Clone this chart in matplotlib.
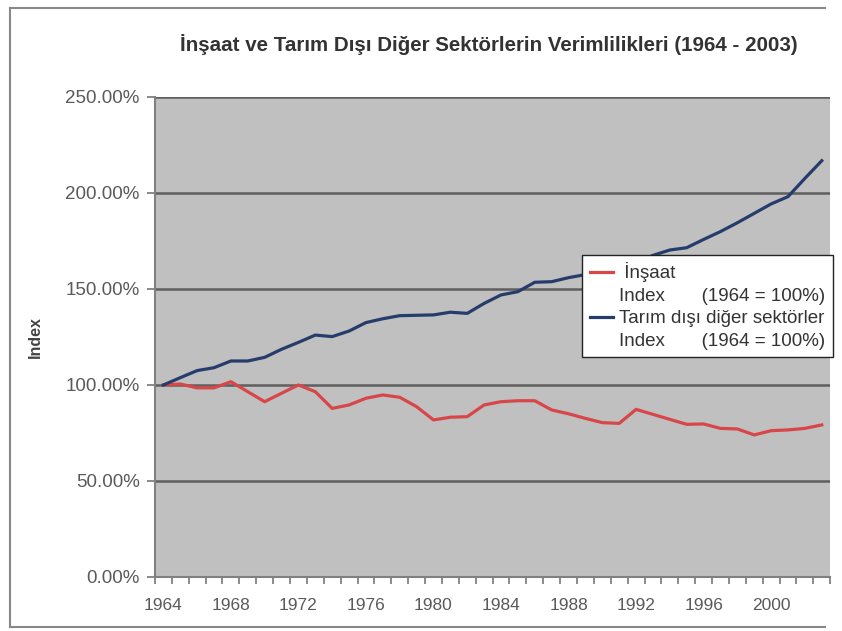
import matplotlib
matplotlib.use("Agg")
import matplotlib.pyplot as plt
from matplotlib.lines import Line2D
from matplotlib.ticker import FuncFormatter, MultipleLocator
import numpy as np

# Index values (1964 = 100%)
years = list(range(1964, 2004))
insaat = [100.0, 100.5, 98.5, 98.5, 101.7, 96.5, 91.3, 95.7, 100.0, 96.5,
          87.8, 89.6, 93.1, 94.8, 93.6, 88.7, 81.8, 83.2, 83.5, 89.6,
          91.3, 91.8, 91.8, 87.0, 85.0, 82.6, 80.4, 80.0, 87.3, 84.7,
          82.1, 79.5, 79.7, 77.4, 77.1, 74.0, 76.2, 76.6, 77.4, 79.2]
diger = [100.0, 103.8, 107.5, 109.0, 112.5, 112.5, 114.4, 118.6, 122.2, 126.0,
         125.2, 128.1, 132.5, 134.5, 136.1, 136.3, 136.5, 137.9, 137.3, 142.5,
         146.9, 148.6, 153.5, 153.8, 155.9, 157.5, 158.0, 160.0, 163.5, 167.5,
         170.3, 171.5, 175.8, 179.9, 184.5, 189.4, 194.3, 198.1, 207.6, 216.8]
year_labels = [1964, 1968, 1972, 1976, 1980, 1984, 1988, 1992, 1996, 2000]

title = "İnşaat ve Tarım Dışı Diğer Sektörlerin Verimlilikleri (1964 - 2003)"
label_insaat = " İnşaat"
label_diger = "Tarım dışı diğer sektörler"
label_index = "Index       (1964 = 100%)"

red = "#d8464a"
blue = "#263d6c"
txt_gray = "#5a5a5a"

plt.rcParams["font.family"] = ["Liberation Sans", "DejaVu Sans"]

fig = plt.figure(figsize=(8.42, 6.31), dpi=100)
ax = fig.add_axes([0.184, 0.0856, 0.802, 0.7607])
ax.set_facecolor("#c0c0c0")

ax.plot(years, insaat, color=red, lw=2.3, solid_joinstyle="round")
ax.plot(years, diger, color=blue, lw=2.3, solid_joinstyle="round")

ax.set_xlim(1963.5, 2003.5)
ax.set_ylim(0, 250)
ax.yaxis.set_major_locator(MultipleLocator(50))
ax.yaxis.set_major_formatter(FuncFormatter(lambda v, p: "%.2f%%" % v))
ax.set_xticks(year_labels)
ax.set_xticks(np.arange(1963.5, 2004, 1), minor=True)
ax.tick_params(axis="x", which="major", length=0, pad=15, labelsize=12.5, labelcolor=txt_gray)
ax.tick_params(axis="x", which="minor", length=5, width=1.2, color="#777777", direction="out")
ax.tick_params(axis="y", length=6, width=1.2, color="#777777", labelsize=13.5,
               labelcolor=txt_gray, pad=5)

ax.grid(axis="y", color="#5e5e5e", lw=1.8)
ax.set_axisbelow(True)
for side in ["top", "right"]:
    ax.spines[side].set_visible(False)
for side in ["left", "bottom"]:
    ax.spines[side].set_color("#808080")
    ax.spines[side].set_linewidth(1.5)

ax.set_ylabel("Index", fontsize=11.5, fontweight="bold", color="#444444", labelpad=16)

fig.text(0.58, 0.929, title, ha="center", va="center", fontsize=14.8, fontweight="bold",
         color="#333333", family=["Liberation Sans Narrow", "Liberation Sans"])

blank = Line2D([], [], color="none")
handles = [Line2D([], [], color=red, lw=2.3), blank,
           Line2D([], [], color=blue, lw=2.3), blank]
labels = [label_insaat, label_index, label_diger, label_index]
leg = ax.legend(handles, labels, loc="upper left", bbox_to_anchor=(0.633, 0.671),
                borderaxespad=0, fontsize=13.5, handlelength=1.25, handletextpad=0.3,
                labelspacing=0.28, borderpad=0.4, fancybox=False, framealpha=1)
leg.get_frame().set_edgecolor("#222222")
leg.get_frame().set_linewidth(1.0)
leg.set_clip_on(False)
for t in leg.get_texts():
    t.set_color("#333333")

# outer chart border (left, top, bottom)
fig.add_artist(Line2D([0.012, 0.012], [0.006, 0.987], color="#888888", lw=1.5))
fig.add_artist(Line2D([0.012, 0.98], [0.987, 0.987], color="#888888", lw=1.5))
fig.add_artist(Line2D([0.012, 0.98], [0.006, 0.006], color="#888888", lw=1.5))

fig.savefig("out.png", dpi=100)
